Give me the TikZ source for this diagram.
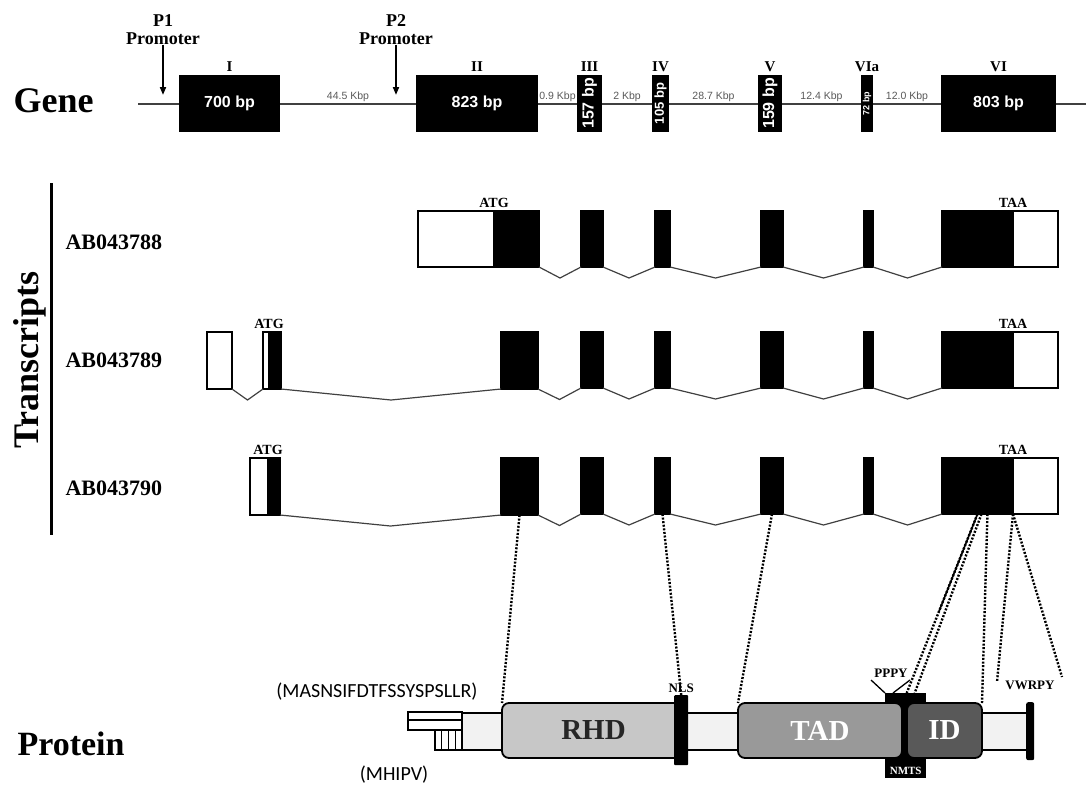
\documentclass[tikz,border=0pt]{standalone}
\usepackage{graphicx}
\usepackage{fontspec}
\setmainfont{Liberation Serif}
\setsansfont{Liberation Sans}
\newfontfamily\calfont{Carlito}
\usetikzlibrary{positioning,arrows.meta,calc}
\newcommand{\fsz}[1]{\fontsize{#1}{#1}\selectfont}

\begin{document}
\begin{tikzpicture}[
  x=1pt, y=-1pt,
  box/.style={draw,line width=1.3pt,inner sep=0pt,outer sep=0pt,anchor=north west},
  exon/.style={box,fill=black},
  utr/.style={box,fill=white},
  title/.style={font=\bfseries\fsz{36}},
  roman/.style={font=\bfseries\fsz{15},inner sep=1pt},
  bp/.style={font=\sffamily\bfseries\fsz{16},text=white},
  kbp/.style={font=\sffamily\fsz{10.5},text=black!65,anchor=south,inner sep=1.5pt},
  prom/.style={font=\bfseries\fontsize{18}{18}\selectfont,align=center,inner sep=0pt,anchor=south},
  acc/.style={font=\bfseries\fsz{22},anchor=west},
  cod/.style={font=\bfseries\fsz{14},inner sep=1pt},
  intron/.style={line width=1.2pt,black!75},
  dom/.style={box,line width=1.8pt,rounded corners=7pt,font=\bfseries\fsz{29}},
  blk/.style={fill=black,inner sep=0pt,anchor=north west},
  motif/.style={font=\bfseries\fsz{13},inner sep=1pt},
  map/.style={dash pattern=on 2pt off 1.6pt,line width=2.4pt},
  seq/.style={font=\calfont\fsz{20}},
  >={Triangle[length=8pt,width=6pt]}
]
\useasboundingbox (0,0) rectangle (1086,784);

% gene
\node[title,anchor=base west] (gene) at (10,112) {Gene};
\coordinate (gl) at (138,104);
\coordinate (gr) at (1086,104);
\draw[line width=1.3pt,black!75] (gl) -- (gr);
\node[exon,bp,minimum width=99,minimum height=55,label={[roman,label distance=3pt]above:I}] (g1) at (180,76) {700 bp};
\node[exon,bp,minimum width=120,minimum height=55,label={[roman,label distance=3pt]above:II}] (g2) at (417,76) {823 bp};
\node[exon,bp,minimum width=23,minimum height=55,label={[roman,label distance=3pt]above:III}] (g3) at (578,76) {\rotatebox{90}{157 bp}};
\node[exon,bp,font=\sffamily\bfseries\fsz{13},minimum width=15,minimum height=55,label={[roman,label distance=3pt]above:IV}] (g4) at (653,76) {\rotatebox{90}{105 bp}};
\node[exon,bp,minimum width=22,minimum height=55,label={[roman,label distance=3pt]above:V}] (g5) at (759,76) {\rotatebox{90}{159 bp}};
\node[exon,bp,font=\sffamily\bfseries\fsz{9},minimum width=10,minimum height=55,label={[roman,label distance=3pt]above:VIa}] (g6a) at (862,76) {\rotatebox{90}{72 bp}};
\node[exon,bp,minimum width=113,minimum height=55,label={[roman,label distance=3pt]above:VI}] (g6) at (942,76) {803 bp};
\foreach \a/\b/\t in {g1/g2/44.5 Kbp,g2/g3/0.9 Kbp,g3/g4/2 Kbp,g4/g5/28.7 Kbp,g5/g6a/12.4 Kbp,g6a/g6/12.0 Kbp}
  \node[kbp] (k\a) at ($(\a.east)!0.5!(\b.west)$) {\t};

% promoters
\node[prom] (p1) at (163,45) {P1\\Promoter};
\coordinate (p1tip) at (163,95);
\draw[->,line width=1.8pt] (p1) -- (p1tip);
\node[prom] (p2) at (396,45) {P2\\Promoter};
\coordinate (p2tip) at (396,95);
\draw[->,line width=1.8pt] (p2) -- (p2tip);

% transcripts
\coordinate (tt) at (51,183);
\coordinate (tb) at (51,535);
\draw[line width=3pt] (tt) -- (tb);
\node[title,rotate=90] (trs) at (30,360) {Transcripts};
\node[acc] (ac1) at (62,242) {AB043788};
\node[acc] (ac2) at (62,360) {AB043789};
\node[acc] (ac3) at (62,488) {AB043790};

\node[utr,minimum width=76,minimum height=56] (u5-1) at (418,211) {};
\node[exon,minimum width=45,minimum height=56] (e2-1) at (494,211) {};
\node[cod,above=2pt of e2-1.north west] (atg1) {ATG};

\node[utr,minimum width=25,minimum height=57] (u5a-2) at (207,332) {};
\node[utr,minimum width=6,minimum height=57] (u5b-2) at (263,332) {};
\node[exon,minimum width=12,minimum height=57] (e1-2) at (269,332) {};
\node[exon,minimum width=37,minimum height=57] (e2-2) at (501,332) {};
\node[cod,above=2pt of e1-2.north west] (atg2) {ATG};

\node[utr,minimum width=18,minimum height=57] (u5-3) at (250,458) {};
\node[exon,minimum width=12,minimum height=57] (e1-3) at (268,458) {};
\node[exon,minimum width=37,minimum height=57] (e2-3) at (501,458) {};
\node[cod,above=2pt of e1-3.north west] (atg3) {ATG};

\foreach \row/\t in {1/211,2/332,3/458}{
  \foreach \n/\a/\b in {3/581/603,4/655/670,5/761/783,6a/864/873,6/942/1013}
    \node[exon,minimum width=\b-\a,minimum height=56] (e\n-\row) at (\a,\t) {};
  \node[utr,minimum width=45,minimum height=56] (u3-\row) at (1013,\t) {};
  \node[cod,above=2pt of u3-\row.north west] (taa\row) {TAA};
}
\foreach \row in {1,2,3}
  \foreach \p/\q in {2/3,3/4,4/5,5/6a,6a/6}
    \draw[intron] (e\p-\row.south east) -- ($(e\p-\row.south east)!0.5!(e\q-\row.south west)+(0,11)$) -- (e\q-\row.south west);
\draw[intron] (u5a-2.south east) -- ($(u5a-2.south east)!0.5!(u5b-2.south west)+(0,11)$) -- (u5b-2.south west);
\draw[intron] (e1-2.south east) -- ($(e1-2.south east)!0.5!(e2-2.south west)+(0,11)$) -- (e2-2.south west);
\draw[intron] (e1-3.south east) -- ($(e1-3.south east)!0.5!(e2-3.south west)+(0,11)$) -- (e2-3.south west);

% protein
\node[title,font=\bfseries\fsz{34},anchor=base west] (prot) at (14,755) {Protein};
\node[box,fill=black!5,line width=1.6pt,minimum width=565,minimum height=37] (bb) at (462,713) {};
\node[box,fill=white,minimum width=54,minimum height=18] (nt) at (408,712) {};
\draw[line width=1.3pt] ([yshift=1pt]nt.west) -- ([yshift=1pt]nt.east);
\node[box,fill=white,minimum width=27,minimum height=20] (st) at (435,730) {};
\foreach \f in {0.25,0.5,0.75}
  \draw[line width=1.2pt] ($(st.north west)!\f!(st.north east)$) -- ($(st.south west)!\f!(st.south east)$);
\node[seq] (sq1) at (377,692) {(MASNSIFDTFSSYSPSLLR)};
\node[seq] (sq2) at (394,775) {(MHIPV)};

\node[dom,fill=black!22,text=black!85,minimum width=183,minimum height=55] (rhd) at (502,703) {RHD};
\node[blk,rounded corners=1pt,minimum width=14,minimum height=70] (nls) at (674,695) {};
\node[motif,above=1pt of nls] (nlsl) {NLS};
\node[blk,minimum width=41,minimum height=85] (nmts) at (885,693) {};
\node[font=\bfseries\fsz{11},text=white,inner sep=0pt] (nmtsl) at ($(nmts.south)+(0,-7)$) {NMTS};
\node[dom,fill=black!40,text=white,minimum width=164,minimum height=55] (tad) at (738,703) {TAD};
\node[dom,fill=black!65,text=white,minimum width=75,minimum height=55] (id) at (907,703) {ID};
\node[blk,rounded corners=2pt,minimum width=8,minimum height=58] (cap) at (1026,702) {};
\node[motif] (pppy) at (891,673) {PPPY};
\draw[line width=1.3pt] ($(nmts.north west)+(-14,-13)$) -- (nmts.north west);
\draw[line width=1.3pt] ($(nmts.north west)+(8,0)$) -- ($(nmts.north west)+(25,-13)$);
\node[motif] (vwrpy) at (1030,685) {VWRPY};

% exon -> domain mapping
\draw[map] (e2-3.south) -- (rhd.north west);
\draw[map] (e4-3.south) -- (nls.north);
\draw[map] (e5-3.south) -- (tad.north west);
\draw[map] (e6-3.south) -- ([xshift=1pt]nmts.north);
\draw[map] ([xshift=4pt]e6-3.south) -- ([xshift=9pt]nmts.north);
\draw[line width=1.6pt] (e6-3.south) -- ($(e6-3.south)!0.55!([xshift=1pt]nmts.north)$);
\draw[map] ($(e6-3.south west)!0.64!(e6-3.south east)$) -- (id.north east);
\coordinate (vw1) at (997,682);
\coordinate (vw2) at (1062,677);
\draw[map] (e6-3.south east) -- (vw1);
\draw[map] (e6-3.south east) -- (vw2);
\end{tikzpicture}
\end{document}
